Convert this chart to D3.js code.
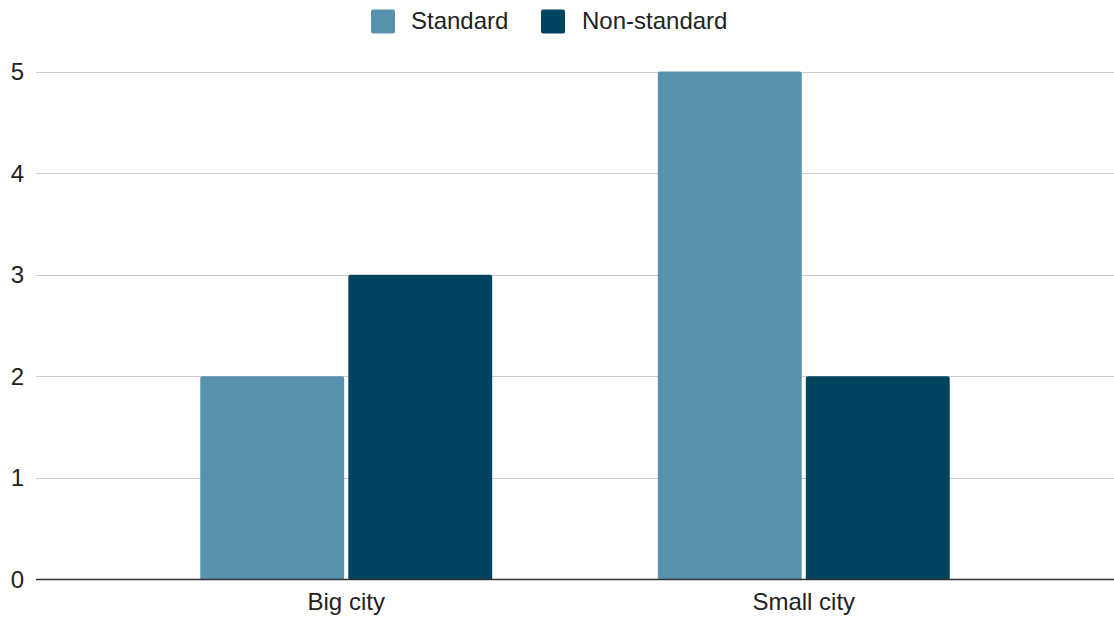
<!DOCTYPE html>
<html>
<head>
<meta charset="utf-8">
<script src="https://cdn.jsdelivr.net/npm/d3@7"></script>
<style>
  html, body { margin: 0; padding: 0; background: #fff; }
  svg { display: block; font-family: "Liberation Sans", Arial, sans-serif; }
</style>
</head>
<body>
<svg id="chart" width="1114" height="617"></svg>
<script>
// Chart data
const categories = ["Big city", "Small city"];
const seriesNames = ["Standard", "Non-standard"];
const standardValues = [2, 5];
const nonStandardValues = [3, 2];
const yTicks = [0, 1, 2, 3, 4, 5];
const colors = ["#5891ad", "#01445f"];

const seriesValues = [standardValues, nonStandardValues];

const plot = { left: 36, right: 1114, top: 71.5, bottom: 579.5 };
const FONT = 24;

const svg = d3.select("#chart");

const y = d3.scaleLinear().domain([0, 5]).range([plot.bottom, plot.top]);

const x0 = d3.scaleBand()
  .domain(categories)
  .range([plot.left, plot.right])
  .paddingInner(0.362)
  .paddingOuter(0.359);

const x1 = d3.scaleBand()
  .domain(seriesNames)
  .range([0, x0.bandwidth()])
  .paddingInner(0.028);

// Gridlines
svg.append("g")
  .selectAll("line")
  .data(yTicks.filter(t => t !== 0))
  .join("line")
  .attr("x1", plot.left)
  .attr("x2", plot.right)
  .attr("y1", d => Math.round(y(d)) + 0.5)
  .attr("y2", d => Math.round(y(d)) + 0.5)
  .attr("stroke", "#cccccc")
  .attr("stroke-width", 1.2);

// Y tick labels
svg.append("g")
  .selectAll("text")
  .data(yTicks)
  .join("text")
  .attr("x", 24)
  .attr("y", d => y(d))
  .attr("dy", "0.35em")
  .attr("text-anchor", "end")
  .attr("font-size", FONT)
  .attr("fill", "#222")
  .text(d => d);

// Bars with slightly rounded tops
function barPath(xl, w, yTop, yBase, r) {
  return `M${xl},${yBase}V${yTop + r}Q${xl},${yTop} ${xl + r},${yTop}` +
         `H${xl + w - r}Q${xl + w},${yTop} ${xl + w},${yTop + r}V${yBase}Z`;
}

const groups = svg.append("g")
  .selectAll("g")
  .data(categories)
  .join("g")
  .attr("transform", d => `translate(${x0(d)},0)`);

groups.selectAll("path")
  .data((d, i) => seriesNames.map((s, j) => ({ series: s, value: seriesValues[j][i], j })))
  .join("path")
  .attr("d", d => barPath(x1(d.series), x1.bandwidth(), y(d.value), y(0), 2))
  .attr("fill", d => colors[d.j]);

// Baseline
svg.append("line")
  .attr("x1", plot.left)
  .attr("x2", plot.right)
  .attr("y1", y(0))
  .attr("y2", y(0))
  .attr("stroke", "#333")
  .attr("stroke-width", 1.5);

// X category labels
svg.append("g")
  .selectAll("text")
  .data(categories)
  .join("text")
  .attr("x", d => x0(d) + x0.bandwidth() / 2)
  .attr("y", 610)
  .attr("text-anchor", "middle")
  .attr("font-size", FONT)
  .attr("fill", "#222")
  .text(d => d);

// Legend
const legendItems = [
  { name: seriesNames[0], color: colors[0], sx: 371, tx: 411 },
  { name: seriesNames[1], color: colors[1], sx: 541, tx: 582 }
];
const legend = svg.append("g");
legend.selectAll("rect")
  .data(legendItems)
  .join("rect")
  .attr("x", d => d.sx)
  .attr("y", 9.5)
  .attr("width", 24)
  .attr("height", 24)
  .attr("rx", 2)
  .attr("fill", d => d.color);
legend.selectAll("text")
  .data(legendItems)
  .join("text")
  .attr("x", d => d.tx)
  .attr("y", 21)
  .attr("dy", "0.35em")
  .attr("font-size", FONT)
  .attr("fill", "#222")
  .text(d => d.name);
</script>
</body>
</html>
